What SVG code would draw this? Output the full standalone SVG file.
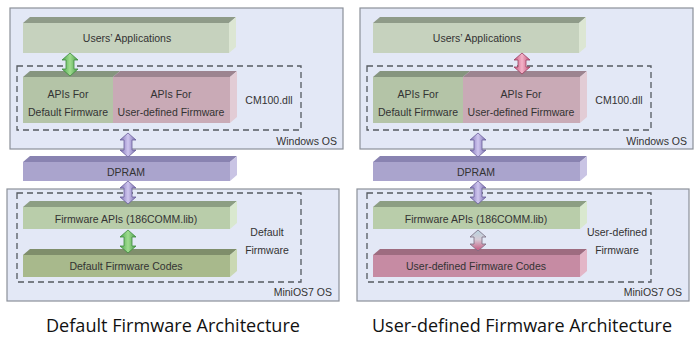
<svg xmlns="http://www.w3.org/2000/svg" width="700" height="339" viewBox="0 0 700 339">
<defs>
<style>
.panel{fill:#e3e8f6;stroke:#8b9099;stroke-width:1.2}
.dash{fill:none;stroke:#555a60;stroke-width:1.3;stroke-dasharray:6,4}
.t{font-family:"Liberation Sans",Arial,sans-serif;font-size:10.5px;fill:#333;text-anchor:middle}
.tr{font-family:"Liberation Sans",Arial,sans-serif;font-size:10.5px;fill:#333;text-anchor:end}
.cap{font-family:"Open Sans","Liberation Sans",sans-serif;font-size:17.5px;fill:#111;text-anchor:middle}
.ua-f{fill:#c6d2be}.ua-t{fill:#8f9b89}.ua-r{fill:#dce6d3}
.ad-f{fill:#b4c4a7}.ad-t{fill:#86957f}
.au-f{fill:#c9aab6}.au-t{fill:#9c8490}.au-r{fill:#e2ccd5}
.dp-f{fill:#aaa4cd}.dp-t{fill:#8983b1}.dp-r{fill:#c9c4e4}
.fa-f{fill:#b9cdaa}.fa-t{fill:#8c9e83}.fa-r{fill:#d9e8cf}
.dc-f{fill:#a8b98c}.dc-t{fill:#7f8e6b}.dc-r{fill:#cad8b3}
.uc-f{fill:#c68ba3}.uc-t{fill:#9e6c80}.uc-r{fill:#e3b6c7}
.ag{fill:url(#gGreen);stroke:#3f8a3f;stroke-width:0.8}
.ap{fill:url(#gPurple);stroke:#6a5f9a;stroke-width:0.8}
.ak{fill:url(#gPink);stroke:#9a3f60;stroke-width:0.8}
.ab{fill:url(#gBluePink);stroke:#7a6c80;stroke-width:0.8}
</style>
<linearGradient id="gGreen" x1="0" y1="0" x2="1" y2="0">
<stop offset="0" stop-color="#4fa84f"/><stop offset="0.5" stop-color="#9fdc8f"/><stop offset="1" stop-color="#4c9f4c"/>
</linearGradient>
<linearGradient id="gPurple" x1="0" y1="0" x2="1" y2="0">
<stop offset="0" stop-color="#7f72b5"/><stop offset="0.5" stop-color="#cfc6ef"/><stop offset="1" stop-color="#7a6eb0"/>
</linearGradient>
<linearGradient id="gPink" x1="0" y1="0" x2="1" y2="0">
<stop offset="0" stop-color="#c8557e"/><stop offset="0.5" stop-color="#f3b2c8"/><stop offset="1" stop-color="#c4527a"/>
</linearGradient>
<linearGradient id="gBluePink" x1="0" y1="0" x2="0" y2="1">
<stop offset="0" stop-color="#b6d3df"/><stop offset="0.45" stop-color="#d6cbd6"/><stop offset="1" stop-color="#c4547c"/>
</linearGradient>
</defs>
<rect width="700" height="339" fill="#ffffff"/>

<!-- LEFT: Default Firmware Architecture -->
<g id="left-windows-os">
<rect class="panel" x="10" y="8" width="333" height="141"/>
<text class="tr" x="337" y="145">Windows OS</text>
</g>
<g id="left-miniOS7-os">
<rect class="panel" x="7" y="189" width="332" height="112"/>
<text class="tr" x="332" y="296">MiniOS7 OS</text>
</g>
<g id="left-cm100">
<rect class="dash" x="17" y="66" width="284" height="64"/>
<text class="t" x="269" y="104">CM100.dll</text>
</g>
<g id="left-default-firmware-group">
<rect class="dash" x="17" y="193" width="284" height="89"/>
<text class="t" x="267" y="236">Default</text>
<text class="t" x="267" y="254">Firmware</text>
</g>
<g id="left-users-applications">
<polygon class="ua-t" points="23,23 229,23 236,17 30,17"/>
<polygon class="ua-r" points="229,23 236,17 236,47 229,53"/>
<rect class="ua-f" x="23" y="23" width="206" height="30"/>
<text class="t" x="127" y="42">Users’ Applications</text>
</g>
<g id="left-apis">
<polygon class="ad-t" points="23,77 113,77 120,71 30,71"/>
<polygon class="au-t" points="113,77 230,77 237,71 120,71"/>
<polygon class="au-r" points="230,77 237,71 237,117 230,123"/>
<rect class="ad-f" x="23" y="77" width="90" height="46"/>
<rect class="au-f" x="113" y="77" width="117" height="46"/>
<text class="t" x="68" y="98">APIs For</text>
<text class="t" x="68" y="116">Default Firmware</text>
<text class="t" x="171" y="98">APIs For</text>
<text class="t" x="171" y="116">User-defined Firmware</text>
</g>
<g id="left-dpram">
<polygon class="dp-t" points="23,162 230,162 237,156 30,156"/>
<polygon class="dp-r" points="230,162 237,156 237,175 230,181"/>
<rect class="dp-f" x="23" y="162" width="207" height="19"/>
<text class="t" x="126" y="176">DPRAM</text>
</g>
<g id="left-firmware-apis">
<polygon class="fa-t" points="23,207 230,207 237,201 30,201"/>
<polygon class="fa-r" points="230,207 237,201 237,223 230,229"/>
<rect class="fa-f" x="23" y="207" width="207" height="22"/>
<text class="t" x="126" y="223">Firmware APIs (186COMM.lib)</text>
</g>
<g id="left-default-firmware-codes">
<polygon class="dc-t" points="23,255 230,255 237,249 30,249"/>
<polygon class="dc-r" points="230,255 237,249 237,271 230,277"/>
<rect class="dc-f" x="23" y="255" width="207" height="22"/>
<text class="t" x="126" y="270">Default Firmware Codes</text>
</g>
<text class="cap" x="173" y="332" textLength="254" lengthAdjust="spacingAndGlyphs">Default Firmware Architecture</text>

<!-- RIGHT: User-defined Firmware Architecture -->
<g id="right-windows-os">
<rect class="panel" x="360" y="8" width="333" height="141"/>
<text class="tr" x="687" y="145">Windows OS</text>
</g>
<g id="right-miniOS7-os">
<rect class="panel" x="357" y="189" width="332" height="112"/>
<text class="tr" x="682" y="296">MiniOS7 OS</text>
</g>
<g id="right-cm100">
<rect class="dash" x="367" y="66" width="284" height="64"/>
<text class="t" x="619" y="104">CM100.dll</text>
</g>
<g id="right-user-firmware-group">
<rect class="dash" x="367" y="193" width="284" height="89"/>
<text class="t" x="617" y="236">User-defined</text>
<text class="t" x="617" y="254">Firmware</text>
</g>
<g id="right-users-applications">
<polygon class="ua-t" points="373,23 579,23 586,17 380,17"/>
<polygon class="ua-r" points="579,23 586,17 586,47 579,53"/>
<rect class="ua-f" x="373" y="23" width="206" height="30"/>
<text class="t" x="477" y="42">Users’ Applications</text>
</g>
<g id="right-apis">
<polygon class="ad-t" points="373,77 463,77 470,71 380,71"/>
<polygon class="au-t" points="463,77 580,77 587,71 470,71"/>
<polygon class="au-r" points="580,77 587,71 587,117 580,123"/>
<rect class="ad-f" x="373" y="77" width="90" height="46"/>
<rect class="au-f" x="463" y="77" width="117" height="46"/>
<text class="t" x="418" y="98">APIs For</text>
<text class="t" x="418" y="116">Default Firmware</text>
<text class="t" x="521" y="98">APIs For</text>
<text class="t" x="521" y="116">User-defined Firmware</text>
</g>
<g id="right-dpram">
<polygon class="dp-t" points="373,162 580,162 587,156 380,156"/>
<polygon class="dp-r" points="580,162 587,156 587,175 580,181"/>
<rect class="dp-f" x="373" y="162" width="207" height="19"/>
<text class="t" x="476" y="176">DPRAM</text>
</g>
<g id="right-firmware-apis">
<polygon class="fa-t" points="373,207 580,207 587,201 380,201"/>
<polygon class="fa-r" points="580,207 587,201 587,223 580,229"/>
<rect class="fa-f" x="373" y="207" width="207" height="22"/>
<text class="t" x="476" y="223">Firmware APIs (186COMM.lib)</text>
</g>
<g id="right-user-firmware-codes">
<polygon class="uc-t" points="373,255 580,255 587,249 380,249"/>
<polygon class="uc-r" points="580,255 587,249 587,271 580,277"/>
<rect class="uc-f" x="373" y="255" width="207" height="22"/>
<text class="t" x="476" y="270">User-defined Firmware Codes</text>
</g>
<text class="cap" x="522" y="332" textLength="300" lengthAdjust="spacingAndGlyphs">User-defined Firmware Architecture</text>

<!-- connectors: double-headed block arrows -->
<g id="connectors">
<path class="ag" d="M70,53 L78,60 L74,60 L74,69 L78,69 L70,76 L62,69 L66,69 L66,60 L62,60 Z"/>
<path class="ap" d="M128,133 L136,140 L132,140 L132,150 L136,150 L128,157 L120,150 L124,150 L124,140 L120,140 Z"/>
<path class="ap" d="M128,181 L136,188 L132,188 L132,197 L136,197 L128,204 L120,197 L124,197 L124,188 L120,188 Z"/>
<path class="ag" d="M128,230 L136,237 L132,237 L132,246 L136,246 L128,253 L120,246 L124,246 L124,237 L120,237 Z"/>
<path class="ak" d="M522,53 L530,60 L526,60 L526,67 L530,67 L522,74 L514,67 L518,67 L518,60 L514,60 Z"/>
<path class="ap" d="M478,133 L486,140 L482,140 L482,150 L486,150 L478,157 L470,150 L474,150 L474,140 L470,140 Z"/>
<path class="ap" d="M478,181 L486,188 L482,188 L482,197 L486,197 L478,204 L470,197 L474,197 L474,188 L470,188 Z"/>
<path class="ab" d="M478,230 L486,237 L482,237 L482,244 L486,244 L478,251 L470,244 L474,244 L474,237 L470,237 Z"/>
</g>
</svg>
